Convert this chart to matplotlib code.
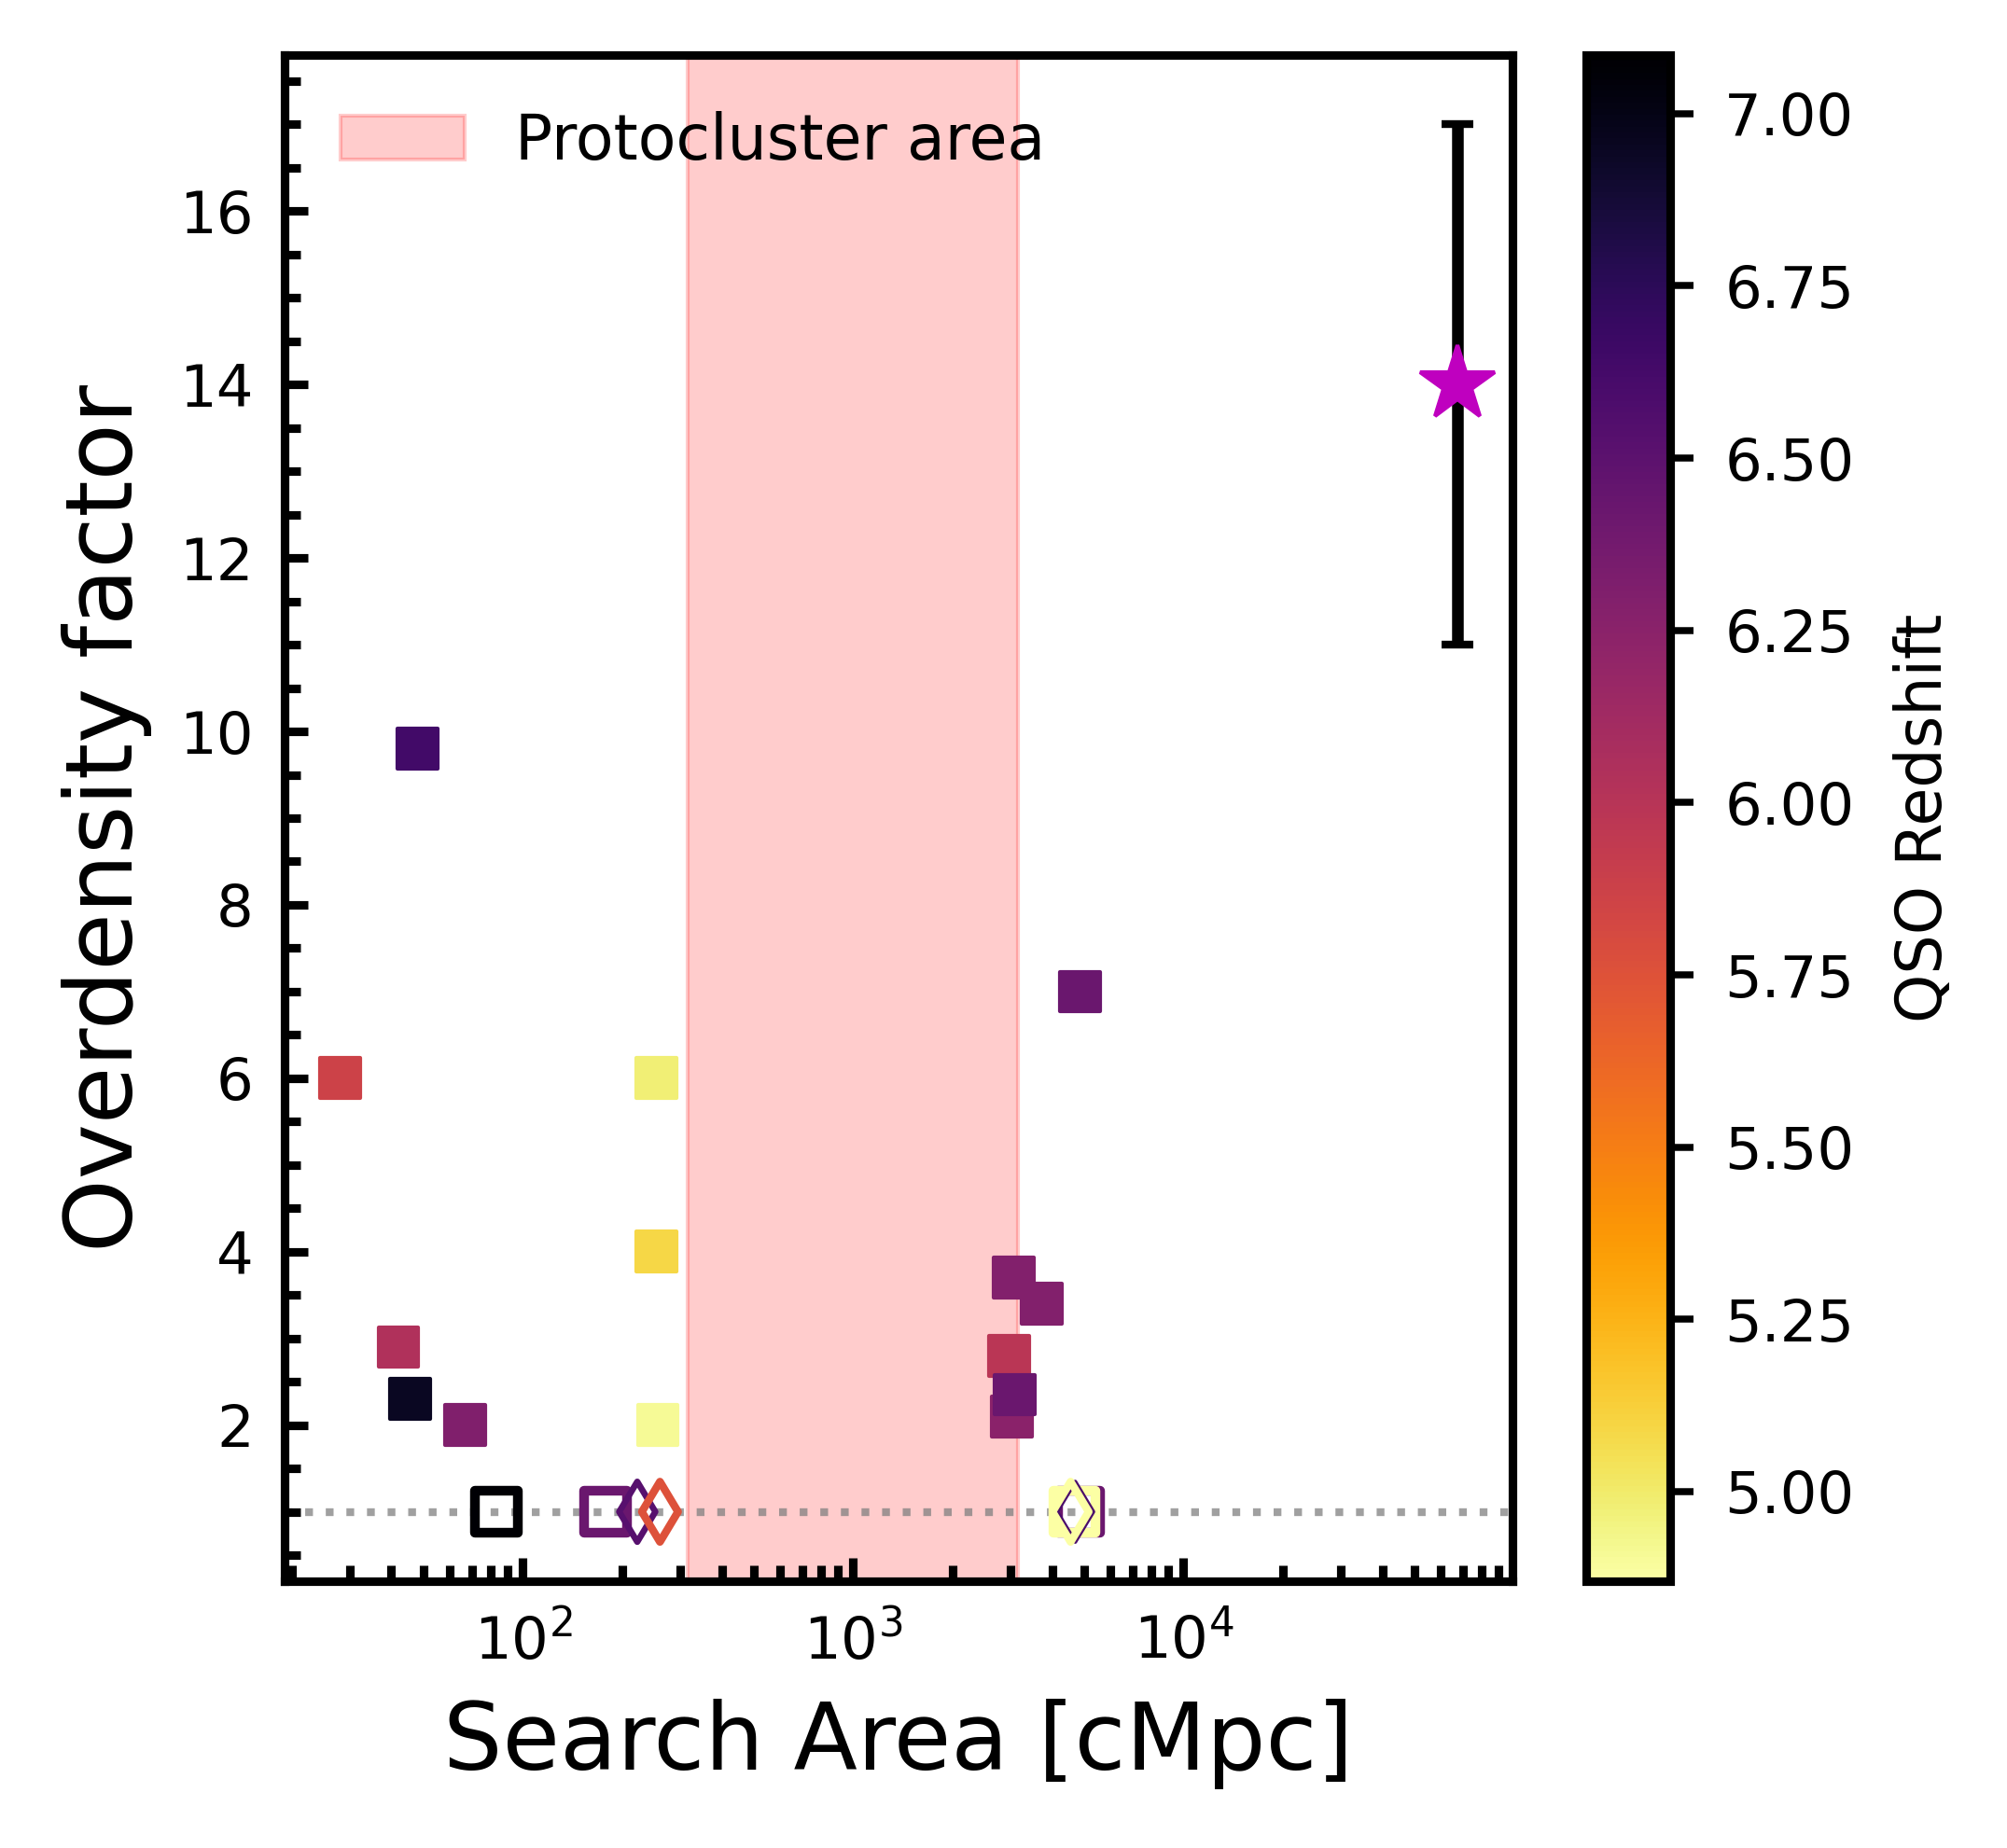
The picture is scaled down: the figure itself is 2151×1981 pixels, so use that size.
import matplotlib
matplotlib.use("Agg")
import matplotlib.pyplot as plt
from matplotlib.colors import Normalize
from matplotlib.ticker import MultipleLocator

# ---------------- data ----------------
# filled squares: search area [cMpc], overdensity factor, QSO redshift
area_filled = [28, 48, 42, 45.5, 67, 254, 254, 256, 3060, 3720, 2965, 3020, 3080, 4850]
od_filled = [6.0, 9.8, 2.9, 2.3, 2.0, 6.0, 4.0, 2.0, 3.7, 3.4, 2.8, 2.1, 2.35, 7.0]
z_filled = [5.87, 6.64, 6.04, 6.95, 6.30, 4.98, 5.09, 4.91, 6.29, 6.29, 5.98, 6.25, 6.42, 6.42]

# hollow squares (no overdensity, factor 1)
area_hsq = [83, 178, 4830, 4670]
od_hsq = [1.0, 1.0, 1.0, 1.0]
z_hsq = [7.085, 6.42, 6.42, 4.87]

# hollow thin diamonds (factor 1)
area_hdm = [222, 260, 4700, 4550]
od_hdm = [1.0, 1.0, 1.0, 1.0]
z_hdm = [6.53, 5.76, 6.60, 4.87]
lw_hdm = [1.6, 2.0, 1.0, 2.0]

# this work
star_area = [67300]
star_od = [14.0]
star_err = [3.0]

proto_lo, proto_hi = 10 ** 2.5, 10 ** 3.5
zmin, zmax = 4.87, 7.085

# ---------------- figure ----------------
fig = plt.figure(figsize=(2151 / 300, 1981 / 300), dpi=300)
ax = fig.add_axes([0.1418, 0.1444, 0.6118, 0.8258])
cax = fig.add_axes([0.7903, 0.1444, 0.0418, 0.8258])

cmap = plt.get_cmap("inferno_r")
norm = Normalize(vmin=zmin, vmax=zmax)

ax.axvspan(proto_lo, proto_hi, color="red", alpha=0.2, label="Protocluster area", zorder=0)
ax.axhline(1, color="gray", ls=":", lw=2, alpha=0.75, zorder=1)

sc = ax.scatter(area_filled, od_filled, c=z_filled, cmap=cmap, norm=norm,
                marker="s", s=105, zorder=3)
ax.scatter(area_hsq, od_hsq, facecolors="none", edgecolors=cmap(norm(z_hsq)),
           marker="s", s=120, linewidths=2.5, zorder=3)
ax.scatter(area_hdm, od_hdm, facecolors="none", edgecolors=cmap(norm(z_hdm)),
           marker="d", s=120, linewidths=lw_hdm, zorder=3)

ax.errorbar(star_area, star_od, yerr=star_err, fmt="none", ecolor="k",
            elinewidth=3, capsize=4, capthick=2, zorder=4)
ax.plot(star_area, star_od, ls="none", marker="*", color="m", markersize=20, zorder=5)

ax.set_xscale("log")
ax.set_xlim(19, 9.9e4)
ax.set_ylim(0.2, 17.8)
ax.yaxis.set_major_locator(MultipleLocator(2))
ax.yaxis.set_minor_locator(MultipleLocator(0.5))

ax.tick_params(which="both", direction="in", top=False, right=False, labelsize=15, pad=8)
ax.tick_params(which="major", length=6, width=2.2)
ax.tick_params(which="minor", length=4, width=2.2)
for sp in ax.spines.values():
    sp.set_linewidth(2.2)

ax.set_xlabel("Search Area [cMpc]", fontsize=24, labelpad=7)
ax.set_ylabel("Overdensity factor", fontsize=24, labelpad=7)
ax.legend(loc="upper left", frameon=False, fontsize=16)

cb = fig.colorbar(sc, cax=cax)
cb.set_label("QSO Redshift", fontsize=16, labelpad=10)
cb.ax.tick_params(labelsize=15, length=6, width=1.8, pad=8)
cb.outline.set_linewidth(2.2)

fig.savefig("out.png", dpi=300)
